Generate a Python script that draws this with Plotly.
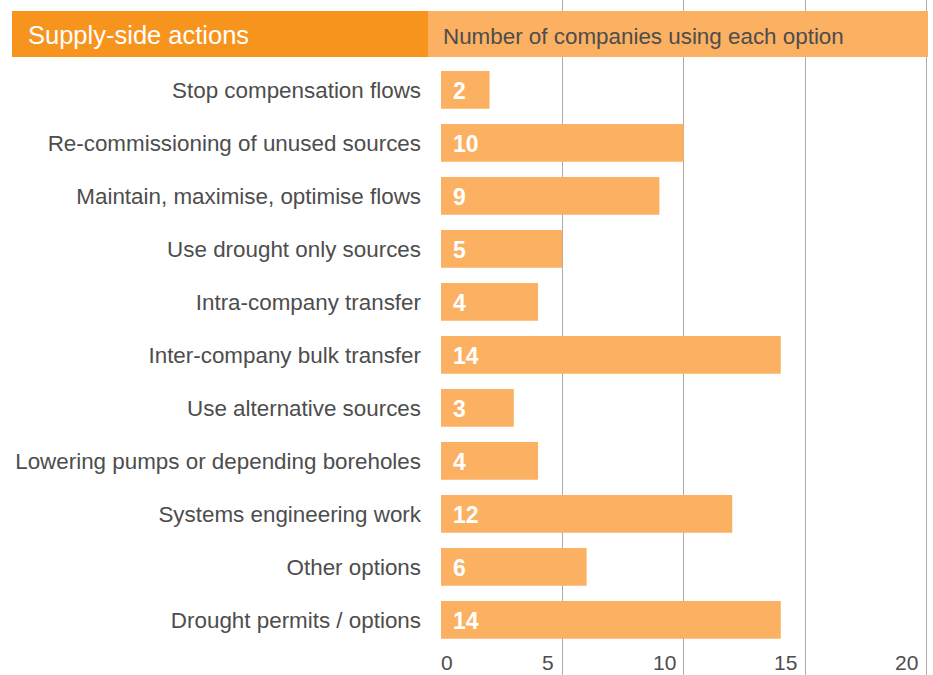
import plotly.graph_objects as go

# ---- data ----
categories = [
    "Stop compensation flows",
    "Re-commissioning of unused sources",
    "Maintain, maximise, optimise flows",
    "Use drought only sources",
    "Intra-company transfer",
    "Inter-company bulk transfer",
    "Use alternative sources",
    "Lowering pumps or depending boreholes",
    "Systems engineering work",
    "Other options",
    "Drought permits / options",
]
values = [2, 10, 9, 5, 4, 14, 3, 4, 12, 6, 14]
x_ticks = [0, 5, 10, 15, 20]
grid_ticks = [5, 10, 15, 20]
header_left = "Supply-side actions"
header_right = "Number of companies using each option"

# ---- layout constants ----
W, H = 933, 675
ML, MR = 441, 3
PW = W - ML - MR
XMAX = 20.15
DARK = "#F7941D"
LIGHT = "#FBB062"
TXT = "#4D4D4D"
FONT = "Liberation Sans, Arial, Helvetica, sans-serif"


def px_x(px):
    return (px - ML) / PW


def px_y(py):
    return 1 - py / H


fig = go.Figure()
fig.add_trace(go.Bar(
    x=values, y=categories, orientation="h",
    marker=dict(color=LIGHT, line=dict(width=0)),
    hoverinfo="skip",
))

annotations = []
for c, v in zip(categories, values):
    annotations.append(dict(
        x=0, y=c, xref="x", yref="y", text=f"<b>{v}</b>", showarrow=False,
        xanchor="left", yanchor="middle", xshift=10, yshift=-1,
        font=dict(family=FONT, size=23, color="white"),
    ))
for t in x_ticks:
    annotations.append(dict(
        x=t, y=px_y(675), xref="x", yref="paper", text=str(t), showarrow=False,
        xanchor="left" if t == 0 else "right", yanchor="bottom",
        xshift=-1 if t == 0 else -7, borderpad=0,
        font=dict(family=FONT, size=21, color=TXT),
    ))
annotations.append(dict(
    x=px_x(26), y=px_y(35), xref="paper", yref="paper", text=header_left,
    showarrow=False, xanchor="left", yanchor="middle",
    font=dict(family=FONT, size=25.5, color="white"),
))
annotations.append(dict(
    x=px_x(441), y=px_y(36), xref="paper", yref="paper", text=header_right,
    showarrow=False, xanchor="left", yanchor="middle",
    font=dict(family=FONT, size=22.4, color=TXT),
))

shapes = [
    dict(type="rect", xref="paper", yref="paper", x0=px_x(12), x1=px_x(428),
         y0=px_y(57), y1=px_y(11), fillcolor=DARK, line=dict(width=0), layer="above"),
    dict(type="rect", xref="paper", yref="paper", x0=px_x(428), x1=px_x(928),
         y0=px_y(57), y1=px_y(11), fillcolor=LIGHT, line=dict(width=0), layer="above"),
]

spacing = 53.0
first_center = 89.8
fig.update_layout(
    width=W, height=H,
    margin=dict(l=ML, r=MR, t=0, b=0, pad=0),
    paper_bgcolor="white", plot_bgcolor="white",
    showlegend=False,
    bargap=1 - 37.7 / spacing,
    xaxis=dict(range=[0, XMAX], tickvals=grid_ticks, showticklabels=False,
               showgrid=True, gridcolor="#ABABAB", gridwidth=1, zeroline=False,
               showline=False, ticks="", fixedrange=True),
    yaxis=dict(range=[(H - first_center) / spacing, -first_center / spacing],
               showgrid=False, zeroline=False, showline=False, ticks="",
               ticklabelstandoff=19,
               tickfont=dict(family=FONT, size=22.4, color=TXT), fixedrange=True),
    annotations=annotations,
    shapes=shapes,
)

fig.write_html("out.html")
